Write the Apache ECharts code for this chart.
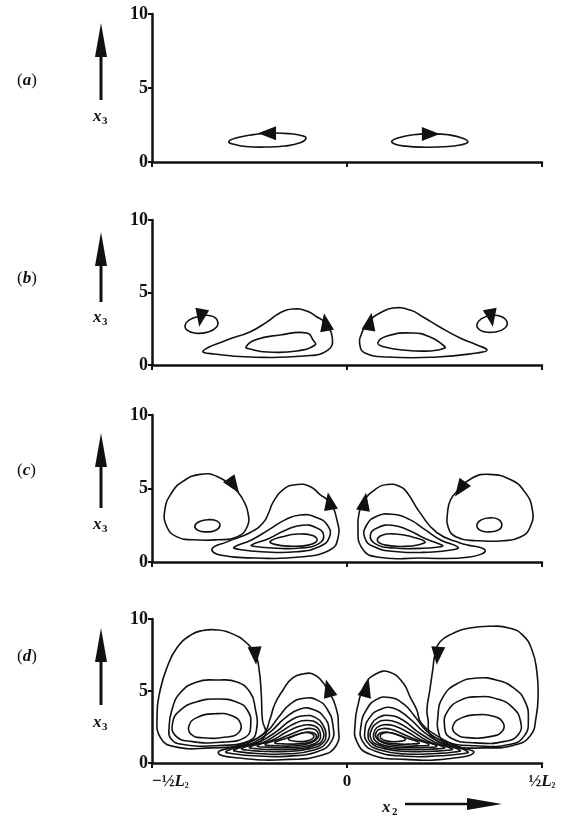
<!DOCTYPE html>
<html>
<head>
<meta charset="utf-8">
<script src="https://cdn.jsdelivr.net/npm/echarts@6/dist/echarts.min.js"></script>
<style>
html,body{margin:0;padding:0;background:#fff;}
#chart{width:561px;height:817px;}
</style>
</head>
<body>
<div id="chart"></div>
<script>
// ---------- axis ticks ----------
const xTicks = [-0.5, 0, 0.5];
const xTickLabels = ['−½L₂', '0', '½L₂'];
const yTicks = [0, 5, 10];
const panelLabels = ['a', 'b', 'c', 'd'];

// ---------- panel (a) streamlines ----------
const aLeft  = [[-0.303,1.38],[-0.28,1.65],[-0.24,1.85],[-0.2,1.95],[-0.15,1.92],[-0.115,1.78],[-0.105,1.6],[-0.12,1.3],[-0.16,1.08],[-0.21,1.01],[-0.26,1.05],[-0.29,1.2]];
const aRight = [[0.115,1.42],[0.135,1.66],[0.17,1.84],[0.21,1.9],[0.26,1.84],[0.295,1.62],[0.31,1.35],[0.29,1.15],[0.25,1.03],[0.2,1.0],[0.15,1.07],[0.122,1.22]];
const arrowsA = [[-0.205,1.95,180],[0.215,1.9,0]];

// ---------- panel (b) ----------
const bLeftSmall  = [[-0.415,2.75],[-0.405,3.1],[-0.38,3.35],[-0.35,3.4],[-0.333,3.1],[-0.335,2.6],[-0.36,2.25],[-0.39,2.2],[-0.41,2.4]];
const bLeftOuter  = [[-0.369,0.97],[-0.308,1.72],[-0.249,2.28],[-0.205,2.97],[-0.172,3.59],[-0.138,3.86],[-0.103,3.72],[-0.077,3.31],[-0.059,2.97],[-0.038,1.93],[-0.049,1.03],[-0.11,0.62],[-0.249,0.55],[-0.341,0.76]];
const bLeftInner  = [[-0.259,1.24],[-0.236,1.72],[-0.172,2.07],[-0.103,2.21],[-0.087,1.72],[-0.082,1.38],[-0.128,0.97],[-0.205,0.9],[-0.249,1.1]];
const bRightSmall = [[0.333,2.8],[0.345,3.2],[0.37,3.42],[0.395,3.35],[0.41,3.0],[0.405,2.55],[0.38,2.28],[0.35,2.3],[0.337,2.5]];
const bRightOuter = [[0.038,2.2],[0.059,3.1],[0.085,3.59],[0.118,3.93],[0.162,3.79],[0.195,3.31],[0.238,2.62],[0.29,1.86],[0.333,1.38],[0.359,1.03],[0.333,0.83],[0.231,0.55],[0.103,0.55],[0.046,0.83],[0.033,1.38]];
const bRightInner = [[0.079,1.52],[0.103,2.0],[0.169,2.21],[0.213,1.93],[0.246,1.38],[0.251,1.17],[0.213,0.97],[0.144,1.03],[0.097,1.24]];
const arrowsB = [[-0.375,3.25,-100],[0.37,3.25,-80],[-0.055,2.95,100],[0.059,3.0,80]];

// ---------- panel (c) ----------
const cLeftVortex  = [[-0.292,5.07],[-0.333,5.82],[-0.377,5.96],[-0.421,5.48],[-0.449,4.73],[-0.467,3.56],[-0.462,2.4],[-0.436,1.71],[-0.395,1.51],[-0.333,1.51],[-0.282,1.71],[-0.256,2.4],[-0.254,3.36],[-0.267,4.25],[-0.279,4.73]];
const cLeftCore    = [[-0.39,2.45],[-0.378,2.75],[-0.355,2.88],[-0.333,2.78],[-0.326,2.45],[-0.338,2.15],[-0.36,2.05],[-0.382,2.15]];
const cLeftIn1     = [[-0.346,0.89],[-0.308,1.37],[-0.249,1.99],[-0.215,2.67],[-0.2,3.4],[-0.19,4.04],[-0.164,4.93],[-0.128,5.27],[-0.095,5.14],[-0.069,4.59],[-0.044,4.04],[-0.026,2.88],[-0.023,1.64],[-0.044,0.82],[-0.121,0.34],[-0.231,0.27],[-0.326,0.48]];
const cLeftIn2     = [[-0.29,1.0],[-0.245,1.5],[-0.2,2.2],[-0.16,2.85],[-0.12,3.2],[-0.08,3.05],[-0.05,2.5],[-0.045,1.7],[-0.07,1.05],[-0.13,0.7],[-0.22,0.7],[-0.275,0.85]];
const cLeftIn3     = [[-0.245,1.15],[-0.2,1.6],[-0.155,2.2],[-0.115,2.5],[-0.08,2.35],[-0.06,1.85],[-0.072,1.25],[-0.12,0.95],[-0.19,0.95],[-0.235,1.05]];
const cLeftIn4     = [[-0.197,1.4],[-0.165,1.72],[-0.125,1.9],[-0.088,1.8],[-0.077,1.45],[-0.1,1.15],[-0.15,1.08],[-0.185,1.2]];
const cRightVortex = [[0.282,4.8],[0.32,5.7],[0.365,5.96],[0.42,5.6],[0.455,4.8],[0.475,3.6],[0.47,2.4],[0.445,1.7],[0.4,1.45],[0.333,1.45],[0.28,1.7],[0.259,2.4],[0.258,3.4],[0.265,4.2]];
const cRightCore   = [[0.333,2.5],[0.343,2.85],[0.365,3.0],[0.388,2.9],[0.397,2.55],[0.39,2.2],[0.365,2.05],[0.342,2.15]];
const cRightIn1    = [[0.038,0.96],[0.028,2.4],[0.033,3.56],[0.041,4.11],[0.072,4.93],[0.103,5.27],[0.136,5.14],[0.154,4.73],[0.187,3.36],[0.231,1.99],[0.29,1.3],[0.354,0.82],[0.315,0.34],[0.187,0.27],[0.077,0.34]];
const cRightIn2    = [[0.285,1.0],[0.24,1.5],[0.2,2.2],[0.16,2.9],[0.115,3.25],[0.075,3.1],[0.05,2.5],[0.045,1.7],[0.068,1.05],[0.13,0.7],[0.22,0.68],[0.27,0.83]];
const cRightIn3    = [[0.245,1.12],[0.2,1.6],[0.155,2.2],[0.115,2.5],[0.08,2.35],[0.06,1.85],[0.072,1.25],[0.12,0.95],[0.19,0.93],[0.235,1.02]];
const cRightIn4    = [[0.2,1.38],[0.165,1.72],[0.125,1.9],[0.09,1.82],[0.078,1.45],[0.1,1.15],[0.15,1.06],[0.185,1.18]];
const arrowsC = [[-0.29,5.2,-55],[0.29,4.95,-125],[-0.045,4.15,100],[0.045,4.1,80]];

// ---------- panel (d) ----------
const dLeftV1 = [[-0.333,9.24],[-0.292,8.95],[-0.258,8.35],[-0.235,7.6],[-0.226,6.6],[-0.22,4.9],[-0.217,3.0],[-0.21,1.9],[-0.25,1.3],[-0.35,1.05],[-0.44,1.12],[-0.478,1.74],[-0.487,3.33],[-0.479,5.07],[-0.462,6.6],[-0.436,8.0],[-0.4,8.9],[-0.37,9.2]];
const dLeftV2 = [[-0.333,5.76],[-0.282,5.63],[-0.249,4.93],[-0.236,3.9],[-0.232,2.3],[-0.25,1.55],[-0.33,1.22],[-0.42,1.28],[-0.452,1.7],[-0.456,2.5],[-0.449,3.68],[-0.428,4.86],[-0.385,5.63]];
const dLeftV3 = [[-0.33,4.44],[-0.285,4.25],[-0.256,3.7],[-0.247,2.6],[-0.26,1.8],[-0.32,1.45],[-0.4,1.5],[-0.44,1.9],[-0.447,2.8],[-0.428,3.65],[-0.385,4.25]];
const dLeftV4 = [[-0.34,3.42],[-0.295,3.28],[-0.273,2.75],[-0.278,2.1],[-0.31,1.8],[-0.37,1.75],[-0.4,2.0],[-0.405,2.6],[-0.385,3.15]];
const dLeftI1 = [[-0.33,0.7],[-0.27,1.3],[-0.215,2.0],[-0.198,3.0],[-0.185,4.1],[-0.164,5.07],[-0.14,5.9],[-0.11,6.2],[-0.085,6.15],[-0.065,5.7],[-0.05,5.1],[-0.03,4.0],[-0.022,2.5],[-0.028,1.2],[-0.07,0.5],[-0.15,0.25],[-0.26,0.3]];
const dLeftI2 = [[-0.31,0.8],[-0.255,1.35],[-0.205,2.2],[-0.175,3.2],[-0.145,4.1],[-0.11,4.5],[-0.075,4.35],[-0.05,3.7],[-0.036,2.6],[-0.04,1.5],[-0.075,0.8],[-0.15,0.48],[-0.24,0.5],[-0.29,0.64]];
const dLeftI3 = [[-0.29,0.9],[-0.24,1.4],[-0.195,2.2],[-0.16,3.1],[-0.12,3.75],[-0.085,3.7],[-0.058,3.15],[-0.046,2.3],[-0.052,1.45],[-0.085,0.9],[-0.15,0.64],[-0.23,0.66],[-0.275,0.77]];
const dLeftI4 = [[-0.27,1.0],[-0.225,1.45],[-0.18,2.2],[-0.145,2.95],[-0.11,3.28],[-0.08,3.15],[-0.062,2.65],[-0.054,2.0],[-0.062,1.4],[-0.095,1.0],[-0.155,0.8],[-0.22,0.82],[-0.258,0.9]];
const dLeftI5 = [[-0.25,1.1],[-0.205,1.55],[-0.165,2.25],[-0.13,2.8],[-0.1,2.95],[-0.076,2.75],[-0.062,2.25],[-0.062,1.65],[-0.08,1.25],[-0.12,1.0],[-0.18,0.93],[-0.235,1.0]];
const dLeftI6 = [[-0.23,1.2],[-0.19,1.6],[-0.155,2.15],[-0.122,2.55],[-0.095,2.65],[-0.076,2.45],[-0.068,2.0],[-0.074,1.5],[-0.1,1.2],[-0.15,1.07],[-0.205,1.1]];
const dLeftI7 = [[-0.21,1.3],[-0.175,1.65],[-0.14,2.05],[-0.11,2.35],[-0.088,2.38],[-0.075,2.15],[-0.075,1.75],[-0.092,1.4],[-0.13,1.2],[-0.18,1.2]];
const dLeftI8 = [[-0.185,1.42],[-0.155,1.72],[-0.125,2.0],[-0.1,2.15],[-0.083,2.05],[-0.079,1.75],[-0.092,1.48],[-0.125,1.33],[-0.165,1.33]];
const dLeftI9 = [[-0.15,1.65],[-0.13,1.95],[-0.105,2.12],[-0.088,2.0],[-0.087,1.72],[-0.105,1.52],[-0.13,1.5]];
const dRightV1 = [[0.226,7.6],[0.238,8.4],[0.272,9.0],[0.315,9.38],[0.374,9.5],[0.415,9.38],[0.45,8.9],[0.475,7.8],[0.487,6.3],[0.49,4.8],[0.485,3.2],[0.47,1.9],[0.43,1.25],[0.35,1.05],[0.27,1.2],[0.215,1.9],[0.208,3.0],[0.205,3.7],[0.212,5.0],[0.22,6.5]];
const dRightV2 = [[0.335,5.9],[0.385,5.75],[0.428,5.2],[0.456,4.3],[0.465,3.0],[0.455,1.9],[0.42,1.3],[0.33,1.2],[0.25,1.5],[0.236,2.0],[0.233,3.2],[0.246,4.58],[0.285,5.55]];
const dRightV3 = [[0.335,4.6],[0.385,4.45],[0.425,3.85],[0.445,2.9],[0.44,2.0],[0.405,1.5],[0.33,1.4],[0.265,1.75],[0.25,2.6],[0.258,3.6],[0.29,4.35]];
const dRightV4 = [[0.335,3.35],[0.375,3.25],[0.4,2.8],[0.398,2.2],[0.37,1.85],[0.31,1.76],[0.278,2.05],[0.272,2.6],[0.295,3.15]];
const dRightI1 = [[0.045,5.4],[0.075,6.2],[0.11,6.3],[0.144,5.55],[0.162,4.58],[0.179,3.68],[0.19,2.78],[0.23,1.9],[0.28,1.2],[0.325,0.72],[0.26,0.3],[0.15,0.25],[0.059,0.6],[0.025,1.5],[0.021,2.8],[0.028,4.0]];
const dRightI2 = [[0.31,0.78],[0.255,1.35],[0.205,2.2],[0.175,3.2],[0.145,4.1],[0.11,4.55],[0.075,4.4],[0.05,3.7],[0.036,2.6],[0.04,1.5],[0.075,0.8],[0.15,0.47],[0.24,0.5],[0.29,0.62]];
const dRightI3 = [[0.29,0.88],[0.24,1.4],[0.195,2.2],[0.16,3.1],[0.12,3.8],[0.085,3.72],[0.058,3.15],[0.046,2.3],[0.052,1.45],[0.085,0.9],[0.15,0.63],[0.23,0.66],[0.275,0.76]];
const dRightI4 = [[0.27,0.98],[0.225,1.45],[0.18,2.2],[0.145,2.95],[0.11,3.3],[0.08,3.15],[0.062,2.65],[0.054,2.0],[0.062,1.4],[0.095,1.0],[0.155,0.8],[0.22,0.82],[0.258,0.88]];
const dRightI5 = [[0.25,1.08],[0.205,1.55],[0.165,2.25],[0.13,2.8],[0.1,2.97],[0.076,2.75],[0.062,2.25],[0.062,1.65],[0.08,1.25],[0.12,1.0],[0.18,0.93],[0.235,0.99]];
const dRightI6 = [[0.23,1.18],[0.19,1.6],[0.155,2.15],[0.122,2.57],[0.095,2.66],[0.076,2.45],[0.068,2.0],[0.074,1.5],[0.1,1.2],[0.15,1.07],[0.205,1.09]];
const dRightI7 = [[0.21,1.28],[0.175,1.65],[0.14,2.05],[0.11,2.36],[0.088,2.38],[0.075,2.15],[0.075,1.75],[0.092,1.4],[0.13,1.2],[0.18,1.19]];
const dRightI8 = [[0.185,1.4],[0.155,1.72],[0.125,2.0],[0.1,2.15],[0.083,2.05],[0.079,1.75],[0.092,1.48],[0.125,1.33],[0.165,1.32]];
const dRightI9 = [[0.15,1.63],[0.13,1.95],[0.105,2.12],[0.088,2.0],[0.087,1.72],[0.105,1.52],[0.13,1.49]];
const arrowsD = [[-0.235,7.45,-85],[0.232,7.45,-95],[-0.048,5.2,105],[0.05,5.2,75]];

const loopsA = [aLeft, aRight];
const loopsB = [bLeftSmall, bLeftOuter, bLeftInner, bRightSmall, bRightOuter, bRightInner];
const loopsC = [cLeftVortex, cLeftCore, cLeftIn1, cLeftIn2, cLeftIn3, cLeftIn4, cRightVortex, cRightCore, cRightIn1, cRightIn2, cRightIn3, cRightIn4];
const loopsD = [dLeftV1, dLeftV2, dLeftV3, dLeftV4, dLeftI1, dLeftI2, dLeftI3, dLeftI4, dLeftI5, dLeftI6, dLeftI7, dLeftI8, dLeftI9,
                dRightV1, dRightV2, dRightV3, dRightV4, dRightI1, dRightI2, dRightI3, dRightI4, dRightI5, dRightI6, dRightI7, dRightI8, dRightI9];

// ---------- layout ----------
const SERIF = '"Liberation Serif","DejaVu Serif",serif';
const INK = '#111';
const grids = [
  {left: 152, top: 14,  width: 390, height: 148},
  {left: 152, top: 220, width: 390, height: 145},
  {left: 152, top: 415, width: 390, height: 147},
  {left: 152, top: 619, width: 390, height: 144}
];
const labelY  = [82, 280, 472, 658];
const arrowTop = [23, 232, 433, 628];
const arrowBot = [100, 302, 508, 705];
const x3Y = [117, 318, 525, 723];

const xAxes = grids.map((g, i) => ({
  gridIndex: i, type: 'value', min: xTicks[0], max: xTicks[2], interval: 0.5,
  axisLine: {show: true, onZero: false, lineStyle: {color: INK, width: 2.5}},
  axisTick: {show: true, length: 5, lineStyle: {color: INK, width: 2}},
  splitLine: {show: false},
  axisLabel: {
    show: i === 3, margin: 10, color: INK, fontFamily: SERIF, fontSize: 16, fontWeight: 'bold',
    alignMinLabel: 'left',
    formatter: v => {
      const k = xTicks.indexOf(Math.round(v * 10) / 10);
      const t = xTickLabels[k];
      if (t === '0') return '{n|0}';
      const parts = t.split('L');
      return '{n|' + parts[0] + '}{i|L}{s|' + parts[1] + '}';
    },
    rich: {
      n: {fontFamily: SERIF, fontSize: 17, fontWeight: 'bold', color: INK},
      i: {fontFamily: SERIF, fontSize: 17, fontWeight: 'bold', fontStyle: 'italic', color: INK},
      s: {fontFamily: SERIF, fontSize: 13, fontWeight: 'bold', color: INK}
    }
  }
}));
const yAxes = grids.map((g, i) => ({
  gridIndex: i, type: 'value', min: yTicks[0], max: yTicks[2], interval: 5,
  axisLine: {show: true, onZero: false, lineStyle: {color: INK, width: 2.5}},
  axisTick: {show: true, length: 4, lineStyle: {color: INK, width: 2}},
  splitLine: {show: false},
  axisLabel: {margin: 4, color: INK, fontFamily: SERIF, fontSize: 18, fontWeight: 'bold'}
}));

function contourSeries(idx, loops) {
  return {
    type: 'custom', xAxisIndex: idx, yAxisIndex: idx, silent: true, clip: false,
    data: loops.map(l => l[0]),
    renderItem: (params, api) => {
      const pts = loops[params.dataIndex].map(p => api.coord(p));
      return {
        type: 'polygon',
        shape: {points: pts, smooth: 0.5},
        style: {fill: 'none', stroke: INK, lineWidth: 1.6}
      };
    }
  };
}
function arrowSeries(idx, arr) {
  return {
    type: 'scatter', xAxisIndex: idx, yAxisIndex: idx, silent: true,
    symbol: 'triangle', symbolSize: [14, 18],
    itemStyle: {color: INK, opacity: 1},
    data: arr.map(a => ({value: [a[0], a[1]], symbolRotate: a[2] - 90})),
    z: 5
  };
}

const graphics = [];
panelLabels.forEach((p, i) => {
  graphics.push({
    type: 'text', left: 17, top: labelY[i] - 10,
    style: {
      text: '{p|(}{i|' + p + '}{p|)}',
      rich: {
        p: {fontFamily: SERIF, fontSize: 17, fill: INK},
        i: {fontFamily: SERIF, fontSize: 17, fontStyle: 'italic', fontWeight: 'bold', fill: INK}
      }
    }
  });
  const ax = 101;
  graphics.push({type: 'line', shape: {x1: ax, y1: arrowTop[i] + 25, x2: ax, y2: arrowBot[i]}, style: {stroke: INK, lineWidth: 3}});
  graphics.push({type: 'polygon', shape: {points: [[ax, arrowTop[i]], [ax - 6, arrowTop[i] + 34], [ax + 6, arrowTop[i] + 34]]}, style: {fill: INK}});
  graphics.push({type: 'text', x: ax - 8, y: x3Y[i] - 9, style: {text: 'x', font: 'italic bold 17px ' + SERIF, fill: INK}});
  graphics.push({type: 'text', x: ax + 1, y: x3Y[i] - 1, style: {text: '3', font: 'bold 11px ' + SERIF, fill: INK}});
});
graphics.push({type: 'text', x: 382, y: 799, style: {text: 'x', font: 'italic bold 17px ' + SERIF, fill: INK}});
graphics.push({type: 'text', x: 392, y: 807, style: {text: '2', font: 'bold 11px ' + SERIF, fill: INK}});
graphics.push({type: 'line', shape: {x1: 405, y1: 804, x2: 470, y2: 804}, style: {stroke: INK, lineWidth: 2.5}});
graphics.push({type: 'polygon', shape: {points: [[502, 804], [467, 798], [467, 810]]}, style: {fill: INK}});

const option = {
  animation: false,
  backgroundColor: '#fff',
  grid: grids,
  xAxis: xAxes,
  yAxis: yAxes,
  series: [
    contourSeries(0, loopsA), arrowSeries(0, arrowsA),
    contourSeries(1, loopsB), arrowSeries(1, arrowsB),
    contourSeries(2, loopsC), arrowSeries(2, arrowsC),
    contourSeries(3, loopsD), arrowSeries(3, arrowsD)
  ],
  graphic: graphics
};
const chart = echarts.init(document.getElementById('chart'), null, {renderer: 'canvas'});
chart.setOption(option);
</script>
</body>
</html>
